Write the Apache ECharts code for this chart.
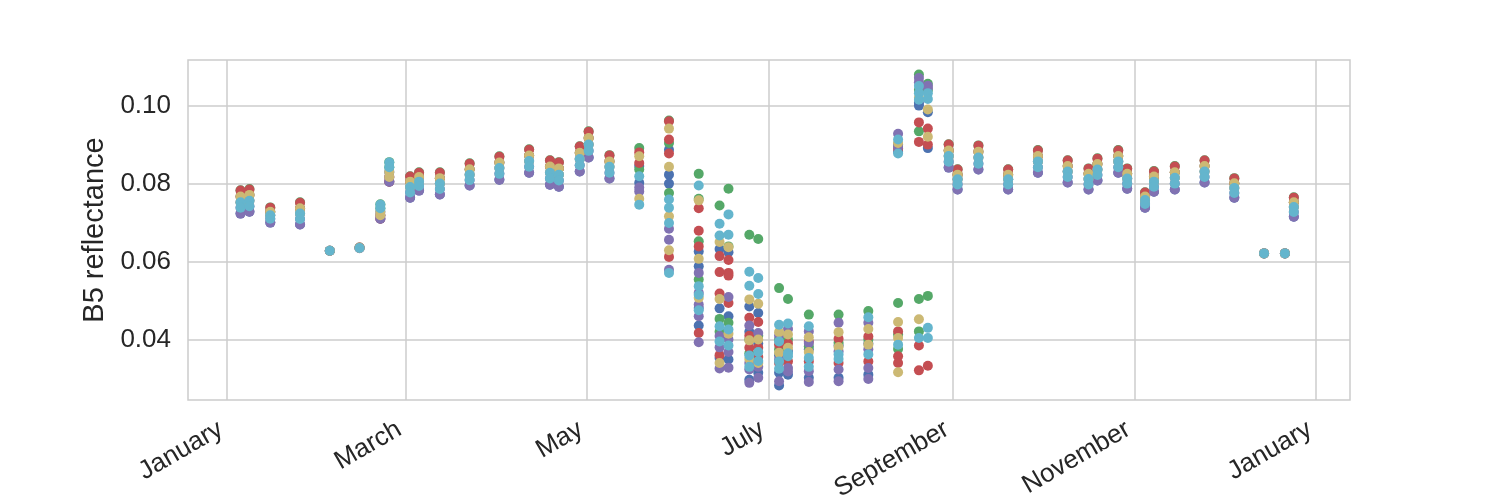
<!DOCTYPE html>
<html>
<head>
<meta charset="utf-8">
<script src="https://cdn.jsdelivr.net/npm/echarts@6/dist/echarts.min.js"></script>
<style>
  html, body { margin: 0; padding: 0; background: #ffffff; }
  #chart { width: 1500px; height: 500px; }
</style>
</head>
<body>
<div id="chart"></div>
<script>
// ---- Data ----
const dates = [
  '2020-01-05','2020-01-08','2020-01-15','2020-01-25','2020-02-04','2020-02-14','2020-02-21','2020-02-24',
  '2020-03-02','2020-03-05','2020-03-12','2020-03-22','2020-04-01','2020-04-11','2020-04-18','2020-04-21',
  '2020-04-28','2020-05-01','2020-05-08','2020-05-18','2020-05-28','2020-06-07','2020-06-14','2020-06-17',
  '2020-06-24','2020-06-27','2020-07-04','2020-07-07','2020-07-14','2020-07-24','2020-08-03','2020-08-13',
  '2020-08-20','2020-08-23','2020-08-30','2020-09-02','2020-09-09','2020-09-19','2020-09-29','2020-10-09',
  '2020-10-16','2020-10-19','2020-10-26','2020-10-29','2020-11-04','2020-11-07','2020-11-14','2020-11-24',
  '2020-12-04','2020-12-14','2020-12-21','2020-12-24'
];

const blueVals = [
  [.0752,.0723],[.0756,.0728],[.0719,.0700],[.0723,.0695],[.0628],[.0635],[.0728,.0710],[.0830,.0805],
  [.0791,.0764],[.0805,.0782],[.0800,.0772],[.0823,.0795],[.0840,.0810],[.0858,.0828],[.0828,.0797],[.0823,.0792],
  [.0863,.0831],[.0900,.0867],[.0843,.0813],[.0845,.0802],[.0887,.0823,.0800],[.0626,.0588,.0481,.0436],[.0632,.0480,.0353],[.0624,.0460,.0349],
  [.0485,.0420,.0297],[.0468,.0390,.0315],[.0360,.0315,.0282],[.0370,.0310],[.0375,.0302],[.0385,.0302],[.0390,.0310],[.0900,.0882],
  [.1007,.1000],[.0983,.0891],[.0871,.0841],[.0811,.0785],[.0867,.0836],[.0811,.0785],[.0857,.0828],[.0831,.0803],
  [.0812,.0785],[.0836,.0808],[.0857,.0828],[.0813,.0787],[.0758,.0738],[.0805,.0779],[.0815,.0785],[.0831,.0803],
  [.0789,.0764],[.0621],[.0621],[.0740,.0715]
];

const greenVals = [
  [.0783,.0767],[.0786,.0771],[.0739,.0728],[.0752,.0737],[.0628],[.0636],[.0747,.0737],[.0855,.0842],
  [.0819,.0805],[.0829,.0817],[.0829,.0814],[.0852,.0837],[.0870,.0854],[.0888,.0872],[.0860,.0844],[.0855,.0839],
  [.0896,.0879],[.0934,.0917],[.0873,.0857],[.0891,.0836],[.0962,.0904,.0776],[.0825,.0761,.0652,.0554],[.0744,.0453,.0420],[.0787,.0639,.0443],
  [.0669,.0400,.0365],[.0658,.0410],[.0532,.0400,.0375],[.0504,.0400],[.0464,.0383],[.0464,.0392],[.0473,.0400],[.0494,.0413,.0376],
  [.1080,.1040,.0934,.0504,.0421],[.1056,.1040,.0512],[.0901,.0885],[.0837,.0823],[.0898,.0882],[.0837,.0823],[.0886,.0871],[.0860,.0845],
  [.0839,.0825],[.0865,.0850],[.0886,.0871],[.0839,.0825],[.0778,.0767],[.0832,.0818],[.0845,.0829],[.0860,.0845],
  [.0814,.0801],[.0621],[.0621],[.0765,.0752]
];

const redVals = [
  [.0782,.0767],[.0785,.0771],[.0738,.0728],[.0751,.0737],[.0628],[.0636],[.0719,.0710],[.0817,.0805],
  [.0818,.0805],[.0828,.0817],[.0828,.0814],[.0851,.0837],[.0869,.0854],[.0887,.0872],[.0859,.0844],[.0854,.0839],
  [.0895,.0879],[.0933,.0917],[.0872,.0857],[.0880,.0853],[.0960,.0913,.0877,.0612],[.0737,.0679,.0639,.0417],[.0614,.0573,.0518,.0360],[.0604,.0571,.0564,.0494],
  [.0456,.0410,.0379],[.0445,.0379,.0355],[.0387,.0340],[.0390,.0344],[.0395,.0344],[.0402,.0340],[.0408,.0344],[.0890,.0421,.0357,.0340],
  [.0957,.0907,.0385,.0321],[.0941,.0900,.0333],[.0900,.0885],[.0836,.0823],[.0897,.0882],[.0836,.0823],[.0885,.0871],[.0859,.0845],
  [.0838,.0825],[.0864,.0850],[.0885,.0871],[.0838,.0825],[.0777,.0767],[.0831,.0818],[.0844,.0829],[.0859,.0845],
  [.0813,.0801],[.0621],[.0621],[.0764,.0752]
];

const purpleVals = [
  [.0738,.0723],[.0742,.0728],[.0710,.0700],[.0709,.0695],[.0628],[.0634],[.0719,.0710],[.0817,.0805],
  [.0777,.0764],[.0794,.0782],[.0786,.0772],[.0809,.0795],[.0825,.0810],[.0843,.0828],[.0813,.0797],[.0808,.0792],
  [.0847,.0831],[.0884,.0867],[.0828,.0813],[.0790,.0780],[.0684,.0656,.0579],[.0571,.0520,.0490,.0460,.0393],[.0409,.0380,.0326],[.0509,.0400,.0368,.0328],
  [.0436,.0340,.0323,.0289],[.0417,.0330,.0302],[.0410,.0349,.0293],[.0427,.0327,.0318],[.0421,.0391,.0319,.0291],[.0443,.0370,.0323,.0293],[.0443,.0375,.0327,.0299],[.0928,.0894],
  [.1071,.1060],[.1051,.1045],[.0856,.0841],[.0798,.0785],[.0851,.0836],[.0798,.0785],[.0842,.0828],[.0817,.0803],
  [.0798,.0785],[.0822,.0808],[.0842,.0828],[.0800,.0787],[.0748,.0738],[.0792,.0779],[.0800,.0785],[.0817,.0803],
  [.0776,.0764],[.0621],[.0621],[.0727,.0715]
];

const yellowVals = [
  [.0767,.0752],[.0771,.0756],[.0728,.0719],[.0737,.0723],[.0628],[.0635],[.0728,.0719],[.0830,.0817],
  [.0805,.0791],[.0817,.0805],[.0814,.0800],[.0837,.0823],[.0854,.0840],[.0872,.0858],[.0844,.0828],[.0839,.0823],
  [.0879,.0863],[.0917,.0900],[.0857,.0843],[.0870,.0761],[.0941,.0843,.0716,.0629],[.0757,.0607,.0507],[.0650,.0504,.0340],[.0637,.0415],
  [.0503,.0398,.0350],[.0492,.0400,.0340],[.0419,.0366],[.0413,.0379],[.0406,.0368],[.0419,.0381],[.0427,.0387],[.0904,.0445,.0404,.0316],
  [.1020,.0452],[.0990,.0920],[.0885,.0871],[.0823,.0811],[.0882,.0867],[.0823,.0811],[.0871,.0857],[.0845,.0831],
  [.0825,.0812],[.0850,.0836],[.0871,.0857],[.0825,.0813],[.0767,.0758],[.0818,.0805],[.0829,.0815],[.0845,.0831],
  [.0801,.0789],[.0621],[.0621],[.0752,.0740]
];

const cyanVals = [
  [.0752,.0738],[.0756,.0742],[.0719,.0710],[.0723,.0709],[.0628],[.0635],[.0746,.0737],[.0854,.0842],
  [.0791,.0777],[.0805,.0794],[.0800,.0786],[.0823,.0809],[.0840,.0825],[.0858,.0843],[.0828,.0813],[.0823,.0808],
  [.0863,.0847],[.0900,.0884],[.0843,.0828],[.0819,.0746],[.0759,.0738,.0699,.0571],[.0795,.0537,.0515,.0475],[.0697,.0667,.0434,.0395],[.0721,.0669,.0426,.0385],
  [.0574,.0538,.0359,.0330],[.0558,.0517,.0368,.0345],[.0438,.0395,.0344,.0325],[.0441,.0357,.0365],[.0434,.0353,.0330],[.0362,.0350],[.0457,.0362],[.0913,.0877,.0387],
  [.1050,.1032,.1015,.0404],[.1032,.1017,.0430,.0404],[.0871,.0856],[.0811,.0798],[.0867,.0851],[.0811,.0798],[.0857,.0842],[.0831,.0817],
  [.0812,.0798],[.0836,.0822],[.0857,.0842],[.0813,.0800],[.0758,.0748],[.0805,.0792],[.0815,.0800],[.0831,.0817],
  [.0789,.0776],[.0621],[.0621],[.0740,.0727]
];

const xTickDates = ['2020-01-01','2020-03-01','2020-05-01','2020-07-01','2020-09-01','2020-11-01','2021-01-01'];
const xTickLabels = ['January','March','May','July','September','November','January'];
const yTicks = [0.04, 0.06, 0.08, 0.10];
const yTitle = 'B5 reflectance';

// ---- Build chart ----
const DAY = 864e5;
const t = s => Date.parse(s);
const xTickVals = xTickDates.map(t);
const ACQ_TIME = 0.55 * DAY; // acquisition time of day

function toPoints(vals) {
  const pts = [];
  vals.forEach((list, i) => list.forEach(v => pts.push([t(dates[i]) + ACQ_TIME, v])));
  return pts;
}

const seriesDefs = [
  { name: 'blue',   color: '#4C72B0', vals: blueVals },
  { name: 'green',  color: '#55A868', vals: greenVals },
  { name: 'red',    color: '#C44E52', vals: redVals },
  { name: 'purple', color: '#8172B2', vals: purpleVals },
  { name: 'yellow', color: '#CCB974', vals: yellowVals },
  { name: 'cyan',   color: '#64B5CD', vals: cyanVals }
];

const chart = echarts.init(document.getElementById('chart'), null, { renderer: 'canvas' });
const textColor = '#262626';
const gridColor = '#cccccc';

chart.setOption({
  animation: false,
  backgroundColor: '#ffffff',
  grid: {
    left: 188, right: 150, top: 60, bottom: 100,
    containLabel: false, outerBoundsMode: 'none',
    show: true, borderColor: gridColor, borderWidth: 1.5, backgroundColor: '#ffffff'
  },
  xAxis: {
    type: 'value',
    min: t('2020-01-01') - 13.1 * DAY,
    max: t('2021-01-01') + 11.43 * DAY,
    axisLine: { show: false },
    axisTick: { show: false, customValues: xTickVals },
    splitLine: { show: true, lineStyle: { color: gridColor, width: 1.5 } },
    axisLabel: {
      customValues: xTickVals,
      rotate: 30,
      margin: 24,
      padding: [0, 7, 0, 0],
      fontFamily: 'Liberation Sans',
      fontSize: 26,
      color: textColor,
      formatter: v => {
        const i = xTickVals.indexOf(v);
        return i >= 0 ? xTickLabels[i] : '';
      }
    }
  },
  yAxis: {
    type: 'value',
    min: 0.0245,
    max: 0.1117,
    name: yTitle,
    nameLocation: 'middle',
    nameGap: 72,
    nameTextStyle: { fontFamily: 'Liberation Sans', fontSize: 29, color: textColor },
    axisLine: { show: false },
    axisTick: { show: false, customValues: yTicks },
    splitLine: { show: true, lineStyle: { color: gridColor, width: 1.5 } },
    axisLabel: {
      customValues: yTicks,
      margin: 17,
      fontFamily: 'Liberation Sans',
      fontSize: 26,
      color: textColor,
      formatter: v => v.toFixed(2)
    }
  },
  series: seriesDefs.map(s => ({
    name: s.name,
    type: 'scatter',
    symbol: 'circle',
    symbolSize: 10,
    itemStyle: { color: s.color, opacity: 1 },
    emphasis: { disabled: true },
    data: toPoints(s.vals)
  }))
});
</script>
</body>
</html>
